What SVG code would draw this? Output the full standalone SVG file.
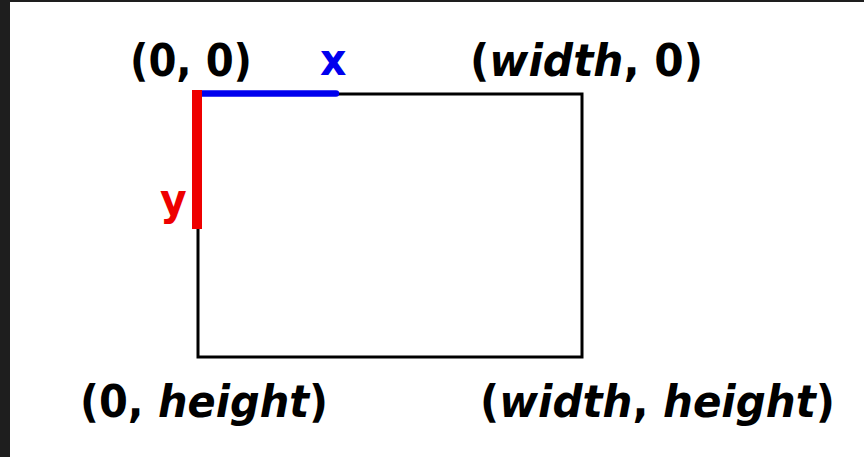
<svg xmlns="http://www.w3.org/2000/svg" width="864" height="457" viewBox="0 0 864 457">
<style>
.lbl{font-family:"DejaVu Sans","Liberation Sans",sans-serif;font-weight:bold;font-size:41px;fill:#000}
.it{font-style:italic}
</style>
<rect x="0" y="0" width="864" height="457" fill="#ffffff"/>
<rect x="0" y="0" width="10" height="457" fill="#1e1e1e"/>
<rect x="0" y="0" width="864" height="2" fill="#1e1e1e"/>
<g id="frame">
<rect x="198" y="94" width="384" height="263" fill="none" stroke="#000" stroke-width="3"/>
</g>
<g id="axes">
<line x1="200" y1="93.5" x2="336" y2="93.5" stroke="#0000ee" stroke-width="6.5" stroke-linecap="round"/>
<line x1="197" y1="90" x2="197" y2="229" stroke="#ee0000" stroke-width="10"/>
</g>
<g id="label-origin"><text class="lbl" textLength="122" lengthAdjust="spacingAndGlyphs" transform="translate(130,76) scale(1,1.1)">(0, 0)</text></g>
<g id="label-x"><text class="lbl" style="fill:#0000ee" transform="translate(320,75) scale(1,1.1)">x</text></g>
<g id="label-y"><text class="lbl" style="fill:#ee0000" transform="translate(160,215) scale(1,1.1)">y</text></g>
<g id="label-width0"><text class="lbl" textLength="233" lengthAdjust="spacingAndGlyphs" transform="translate(470,76) scale(1,1.1)">(<tspan class="it">width</tspan>, 0)</text></g>
<g id="label-0height"><text class="lbl" textLength="248" lengthAdjust="spacingAndGlyphs" transform="translate(80,417) scale(1,1.1)">(0, <tspan class="it">height</tspan>)</text></g>
<g id="label-wh"><text class="lbl" textLength="355" lengthAdjust="spacingAndGlyphs" transform="translate(480,417) scale(1,1.1)">(<tspan class="it">width</tspan>, <tspan class="it">height</tspan>)</text></g>
</svg>
